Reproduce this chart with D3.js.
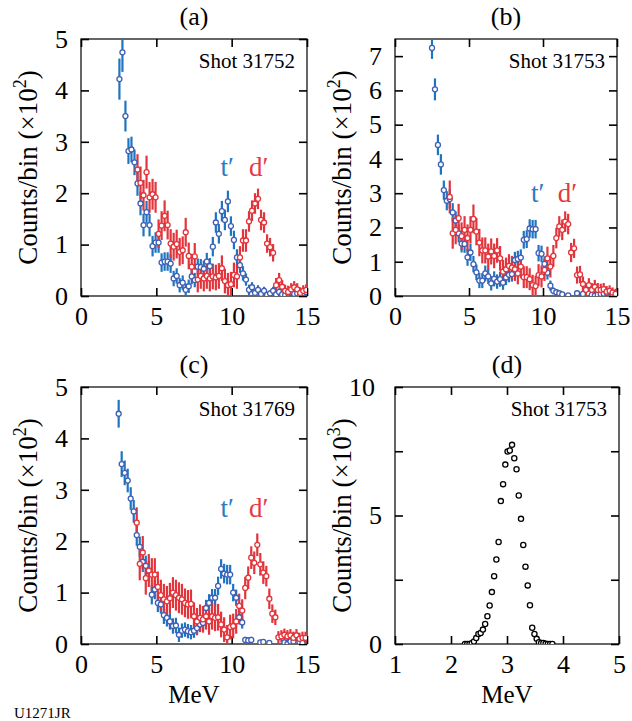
<!DOCTYPE html>
<html>
<head>
<meta charset="utf-8">
<script src="https://cdn.jsdelivr.net/npm/d3@7"></script>
<style>
body{margin:0;background:#fff}
text{font-family:"Liberation Serif","Times New Roman",serif;fill:#000}
</style>
</head>
<body>
<div id="chart"></div>
<script>
const width = 632;
const height = 721;

// bin grid (MeV): first bin centre, bin width
const binWidth = 0.2;
const tStartA = 2.55, dStartA = 3.75;
const tStartB = 2.5, dStartB = 3.7;
const tStartC = 2.5, dStartC = 3.7;
const pStartD = 2.25, pBinD = 0.04;

// panel (a) shot 31752, counts/bin x10^2
const tA = [4.22,4.74,3.50,2.82,2.85,2.60,2.19,1.80,1.38,1.63, 1.38,0.97,1.04,1.04,0.65,0.67,0.67,0.63,0.34,0.39,
  0.21,0.26,0.12,0.19,0.38,0.31,0.57,0.56,0.53,0.67, 0.58,0.96,1.43,1.21,1.65,1.48,1.84,1.36,1.09,0.75,
  0.60,0.44,0.32,0.12,0.17,0.06,0.12,0.04,0.10,0.02, 0.05,0.10,0.03,0.08,0.03,0.02,0.05,0.07,0.04,0.05,
  0.03,0.06,0.08];
const tAerr = [0.40,0.38,0.30,0.25,0.25,0.25,0.24,0.23,0.22,0.22, 0.22,0.20,0.20,0.20,0.18,0.18,0.18,0.18,0.15,0.15,
  0.14,0.14,0.12,0.13,0.15,0.14,0.16,0.16,0.16,0.17, 0.16,0.19,0.20,0.19,0.20,0.20,0.21,0.19,0.18,0.16,
  0.15,0.14,0.12,0.10,0.10,0.07,0.09,0.06,0.08,0.05, 0.06,0.08,0.05,0.07,0.05,0.04,0.06,0.07,0.05,0.06,
  0.05,0.06,0.07];
const dA = [2.46,2.20,1.96,2.41,1.92,1.98,1.92,1.21,1.37,1.56, 1.38,1.02,0.96,1.01,0.86,0.89,1.24,0.78,0.57,0.77,
  0.32,0.39,0.34,0.39,0.34,0.38,0.36,0.39,0.54,0.29, 0.21,0.23,0.41,0.38,0.75,1.08,1.08,1.45,1.66,1.80,
  1.89,1.48,1.43,1.02,0.95,0.84,0.21,0.31,0.18,0.10, 0.08,0.13,0.17,0.13,0.06,0.10,0.12];
const dAerr = [0.30,0.32,0.30,0.32,0.30,0.30,0.30,0.28,0.28,0.30, 0.28,0.28,0.27,0.28,0.27,0.27,0.28,0.26,0.25,0.26,
  0.25,0.25,0.25,0.25,0.25,0.25,0.25,0.25,0.25,0.24, 0.24,0.24,0.24,0.24,0.22,0.22,0.22,0.20,0.20,0.20,
  0.20,0.20,0.20,0.18,0.18,0.17,0.14,0.14,0.13,0.12, 0.12,0.12,0.12,0.12,0.11,0.11,0.11];

// panel (b) shot 31753
const tB = [7.24,6.03,4.41,3.84,3.09,2.78,2.83,2.44,2.20,1.83, 1.53,1.52,1.13,1.27,0.93,0.69,0.45,0.45,0.66,0.57,
  0.37,0.50,0.42,0.49,0.39,0.54,0.62,0.64,1.05,1.08, 1.12,1.64,1.66,1.97,1.95,1.95,1.25,1.23,0.94,0.68,
  0.30,0.15,0.11,0.08,0.05,null,0.02,null,null,0.08, null,0.06,null,null,0.03,0.01,0.04,0.06,0.07,0.10,
  null,0.05,0.03];
const tBerr = [0.32,0.32,0.30,0.30,0.28,0.28,0.28,0.27,0.27,0.26, 0.26,0.26,0.25,0.25,0.24,0.23,0.22,0.22,0.23,0.22,
  0.21,0.22,0.21,0.22,0.21,0.22,0.22,0.22,0.24,0.24, 0.24,0.26,0.26,0.27,0.27,0.27,0.24,0.24,0.22,0.20,
  0.15,0.10,0.08,0.07,0.06,0.05,0.05,0.05,0.05,0.07, 0.05,0.06,0.05,0.05,0.05,0.04,0.05,0.06,0.07,0.07,
  0.05,0.06,0.05];
const dB = [2.89,1.83,1.93,2.27,1.75,1.93,1.69,1.93,2.25,1.88, 1.56,1.33,1.33,1.15,1.30,1.17,1.33,1.10,0.71,0.78,
  0.88,0.83,0.78,0.66,0.86,0.55,0.55,0.49,0.32,0.29, 0.61,0.57,0.76,1.10,0.86,1.17,1.69,2.03,1.93,2.17,
  2.10,1.27,1.39,0.61,0.63,0.35,0.18,0.32,0.18,0.27, 0.18,0.18,0.20,0.13,0.15,0.10,0.06];
const dBerr = [0.48,0.45,0.42,0.42,0.40,0.40,0.40,0.40,0.42,0.40, 0.40,0.38,0.38,0.38,0.38,0.36,0.36,0.36,0.34,0.34,
  0.34,0.34,0.34,0.32,0.34,0.32,0.32,0.32,0.30,0.30, 0.32,0.32,0.32,0.34,0.32,0.32,0.30,0.30,0.30,0.30,
  0.30,0.28,0.28,0.25,0.25,0.22,0.20,0.20,0.20,0.20, 0.20,0.18,0.18,0.16,0.16,0.15,0.15];

// panel (c) shot 31769
const tC = [4.48,3.50,3.33,3.18,2.83,2.58,2.12,1.89,1.60,1.52, 1.42,0.96,1.06,0.80,0.77,0.56,0.51,0.44,0.35,0.36,
  0.18,0.26,0.28,0.25,0.23,0.26,0.31,0.38,0.41,0.70, 0.80,0.90,0.90,1.13,1.46,1.37,1.35,1.35,1.00,0.90,
  0.52,0.42,0.08,0.07,0.08,null,null,0.03,0.04,null, 0.02,null,null,null,null,0.03,0.00,0.05,0.05,null,
  0.04,0.02];
const tCerr = [0.27,0.25,0.24,0.23,0.22,0.22,0.21,0.20,0.20,0.20, 0.20,0.19,0.19,0.18,0.18,0.17,0.17,0.16,0.15,0.15,
  0.14,0.14,0.14,0.14,0.14,0.14,0.14,0.15,0.15,0.16, 0.17,0.17,0.17,0.18,0.19,0.19,0.19,0.19,0.17,0.16,
  0.14,0.12,0.06,0.06,0.06,0.05,0.05,0.05,0.05,0.05, 0.05,0.05,0.05,0.05,0.05,0.05,0.05,0.05,0.05,0.05,
  0.05,0.05];
const dC = [2.36,1.56,1.78,1.28,1.43,1.35,1.35,1.11,0.95,0.87, 0.83,0.89,1.00,0.95,0.90,0.87,0.80,0.77,0.78,0.54,
  0.44,0.51,0.48,0.54,0.44,0.54,0.51,0.52,0.38,0.28, 0.13,0.33,0.35,0.44,0.74,0.65,1.09,1.29,1.68,1.58,
  1.93,1.55,1.39,1.32,0.88,0.59,0.52,0.13,0.15,0.18, 0.15,0.17,0.12,0.17,0.10,0.12,0.12];
const dCerr = [0.30,0.32,0.32,0.32,0.32,0.32,0.32,0.30,0.30,0.30, 0.30,0.30,0.30,0.30,0.30,0.30,0.28,0.28,0.28,0.27,
  0.26,0.26,0.26,0.26,0.26,0.26,0.26,0.26,0.25,0.24, 0.24,0.24,0.24,0.24,0.24,0.22,0.22,0.22,0.22,0.22,
  0.22,0.22,0.22,0.20,0.20,0.18,0.15,0.12,0.12,0.12, 0.12,0.12,0.12,0.12,0.12,0.12,0.12];

// panel (d) shot 31753, counts/bin x10^3
const pD = [0.00,0.00,0.00,0.03,0.10,0.23,0.39,0.43,0.56,0.78, 1.08,1.50,2.02,2.64,3.29,3.97,5.56,6.22,6.98,7.49,
  7.53,7.75,7.23,6.80,5.78,4.87,3.85,3.01,2.28,1.51, 0.63,0.39,0.20,0.07,0.04,0.04,0.01,0.00,0.00,0.00];

const blueBar = '#1f74bf', blueDot = '#3f5fb5';
const redBar = '#e2343a', redDot = '#e2343a';

const toPoints = (vals, errs, start, step) =>
  vals.map((v, i) => ({x: start + i * step, y: v, e: errs ? errs[i] : 0})).filter(d => d.y !== null);

const panels = [
  {name:'(a)', left:81, top:39, w:226, x:[0,15], y:[0,5], xt:[0,5,10,15], yt:[0,1,2,3,4,5], shot:'Shot 31752', exp:'2',
   series:[{p:toPoints(tA,tAerr,tStartA,binWidth),bar:blueBar,dot:blueDot},{p:toPoints(dA,dAerr,dStartA,binWidth),bar:redBar,dot:redDot}],
   peaks:[[9.7,2.33],[11.8,2.33]]},
  {name:'(b)', left:395, top:39, w:222, x:[0,15], y:[0,7.5], xt:[0,5,10,15], yt:[0,1,2,3,4,5,6,7], shot:'Shot 31753', exp:'2',
   series:[{p:toPoints(tB,tBerr,tStartB,binWidth),bar:blueBar,dot:blueDot},{p:toPoints(dB,dBerr,dStartB,binWidth),bar:redBar,dot:redDot}],
   peaks:[[9.64,2.73],[11.65,2.73]]},
  {name:'(c)', left:81, top:387, w:226, x:[0,15], y:[0,5], xt:[0,5,10,15], yt:[0,1,2,3,4,5], shot:'Shot 31769', exp:'2',
   series:[{p:toPoints(tC,tCerr,tStartC,binWidth),bar:blueBar,dot:blueDot},{p:toPoints(dC,dCerr,dStartC,binWidth),bar:redBar,dot:redDot}],
   peaks:[[9.7,2.48],[11.8,2.48]], mev:true},
  {name:'(d)', left:395, top:387, w:224, x:[1,5], y:[0,10], xt:[1,2,3,4,5], yt:[0,2.5,5,7.5,10], shot:'Shot 31753', exp:'3',
   series:[{p:toPoints(pD,null,pStartD,pBinD),bar:null,dot:'#000'}], peaks:[], mev:true}
];

const h = 257;

const svg = d3.select('#chart').append('svg')
  .attr('width', width).attr('height', height);

panels.forEach((P, k) => {
  const w = P.w;
  const g = svg.append('g').attr('transform', `translate(${P.left},${P.top})`);
  const x = d3.scaleLinear().domain(P.x).range([0, w]);
  const y = d3.scaleLinear().domain(P.y).range([h, 0]);

  g.append('clipPath').attr('id', 'clip' + k)
    .append('rect').attr('width', w).attr('height', h);

  const fmt = d => (d % 1 === 0 && (P.name !== '(d)' || d % 5 === 0)) ? d : '';

  const ax = [
    g.append('g').attr('transform', `translate(0,${h})`)
      .call(d3.axisBottom(x).tickValues(P.xt).tickSize(-8).tickPadding(11).tickFormat(d3.format('d'))),
    g.append('g').call(d3.axisTop(x).tickValues(P.xt).tickSize(-8).tickFormat('')),
    g.append('g').attr('class', 'yaxis').call(d3.axisLeft(y).tickValues(P.yt).tickSize(-8).tickPadding(13).tickFormat(fmt)),
    g.append('g').attr('transform', `translate(${w},0)`)
      .call(d3.axisRight(y).tickValues(P.yt).tickSize(-8).tickFormat(''))
  ];
  ax.forEach(a => {
    a.select('.domain').remove();
    a.selectAll('line').attr('stroke', '#000').attr('stroke-width', 1.6);
    a.selectAll('text').attr('font-size', 26).attr('font-family', null);
  });
  // two-digit label in (d) sits a little further out
  g.select('.yaxis').selectAll('text').filter(d => d >= 10).attr('x', -20);

  g.append('rect').attr('width', w).attr('height', h)
    .attr('fill', 'none').attr('stroke', '#000').attr('stroke-width', 1.2);

  const plot = g.append('g').attr('clip-path', `url(#clip${k})`);
  P.series.forEach(s => {
    if (!s.bar) return;
    plot.append('g').selectAll('line').data(s.p).enter().append('line')
      .attr('x1', d => x(d.x)).attr('x2', d => x(d.x))
      .attr('y1', d => y(d.y - d.e)).attr('y2', d => y(d.y + d.e))
      .attr('stroke', s.bar).attr('stroke-width', 2.2);
  });
  P.series.forEach(s => {
    plot.append('g').selectAll('circle').data(s.p).enter().append('circle')
      .attr('cx', d => x(d.x)).attr('cy', d => y(d.y))
      .attr('r', s.bar ? 2.5 : 2.6)
      .attr('fill', '#fff').attr('stroke', s.dot).attr('stroke-width', 1.3);
  });

  // peak labels t' and d'
  const peakText = ['t\u2032', 'd\u2032'];
  const peakColor = ['#2a7bc2', '#e5393f'];
  P.peaks.forEach((pk, i) => {
    g.append('text').attr('x', x(pk[0])).attr('y', y(pk[1]))
      .attr('text-anchor', 'middle').attr('font-size', 27)
      .style('fill', peakColor[i]).text(peakText[i]);
  });

  g.append('text').attr('x', w - 12).attr('y', 29)
    .attr('text-anchor', 'end').attr('font-size', 21).text(P.shot);

  g.append('text').attr('x', w / 2).attr('y', -14)
    .attr('text-anchor', 'middle').attr('font-size', 26).text(P.name);

  const yl = g.append('text')
    .attr('transform', `translate(-44,${h / 2}) rotate(-90)`)
    .attr('text-anchor', 'middle').attr('font-size', 27);
  yl.append('tspan').text('Counts/bin (\u00d710');
  yl.append('tspan').attr('dy', -11).attr('font-size', 18).text(P.exp);
  yl.append('tspan').attr('dy', 11).text(')');

  if (P.mev) {
    g.append('text').attr('x', w / 2).attr('y', h + 59)
      .attr('text-anchor', 'middle').attr('font-size', 25).text('MeV');
  }
});

svg.append('text').attr('x', 14).attr('y', 718)
  .attr('font-size', 15).text('U1271JR');
</script>
</body>
</html>
